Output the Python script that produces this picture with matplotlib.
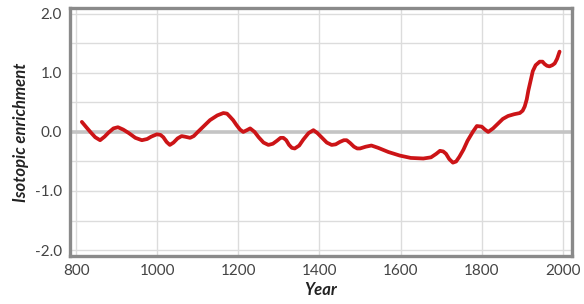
import numpy as np
import matplotlib.pyplot as plt

# values
years = [814, 825, 835, 847, 859, 870, 880, 892, 903, 916, 930, 946, 962, 975, 985, 999,
         1008, 1015, 1023, 1031, 1040, 1050, 1060, 1068, 1081, 1090, 1100, 1115, 1130,
         1148, 1163, 1172, 1179, 1187, 1195, 1204, 1212, 1221, 1229, 1240, 1250, 1262,
         1274, 1285, 1295, 1304, 1311, 1318, 1325, 1332, 1339, 1350, 1360, 1373, 1385,
         1395, 1405, 1418, 1430, 1440, 1450, 1460, 1467, 1476, 1485, 1493, 1500, 1514,
         1528, 1545, 1570, 1598, 1625, 1656, 1675, 1688, 1697, 1705, 1712, 1720, 1729,
         1737, 1745, 1755, 1765, 1778, 1788, 1800, 1808, 1816, 1828, 1840, 1852, 1865,
         1880, 1894, 1901, 1906, 1911, 1915, 1921, 1926, 1933, 1943, 1950, 1955, 1961,
         1967, 1974, 1980, 1986, 1992]
enrichment = [0.17, 0.08, 0.0, -0.09, -0.14, -0.08, -0.01, 0.06, 0.08, 0.04, -0.02, -0.1,
              -0.14, -0.12, -0.08, -0.04, -0.05, -0.09, -0.17, -0.22, -0.18, -0.11, -0.07,
              -0.08, -0.1, -0.07, 0.0, 0.1, 0.2, 0.28, 0.32, 0.31, 0.26, 0.2, 0.12, 0.04,
              0.0, 0.03, 0.06, 0.0, -0.09, -0.18, -0.22, -0.2, -0.15, -0.1, -0.1, -0.14,
              -0.22, -0.27, -0.28, -0.23, -0.13, -0.02, 0.03, -0.02, -0.09, -0.18, -0.22,
              -0.21, -0.17, -0.14, -0.14, -0.19, -0.25, -0.28, -0.28, -0.25, -0.23, -0.27,
              -0.34, -0.4, -0.44, -0.45, -0.43, -0.37, -0.32, -0.33, -0.37, -0.46, -0.52,
              -0.5, -0.42, -0.3, -0.15, 0.0, 0.1, 0.09, 0.04, 0.0, 0.06, 0.14, 0.22, 0.27,
              0.3, 0.32, 0.36, 0.43, 0.55, 0.7, 0.88, 1.03, 1.13, 1.19, 1.19, 1.15, 1.12,
              1.11, 1.13, 1.16, 1.24, 1.36]
xticks = [800, 1000, 1200, 1400, 1600, 1800, 2000]
yticks = [-2.0, -1.0, 0.0, 1.0, 2.0]

plt.rcParams['font.family'] = ['Lato', 'DejaVu Sans']

fig = plt.figure(figsize=(5.84, 3.04), dpi=100)
ax = fig.add_axes([0.12, 0.158, 0.859, 0.816])

ax.set_xlim(785, 2022)
ax.set_ylim(-2.1, 2.1)

# grid
for x in xticks:
    ax.axvline(x, color='#dcdcdc', lw=1, zorder=0)
for y in np.arange(-2.0, 2.01, 0.5):
    ax.axhline(y, color='#dcdcdc', lw=1, zorder=0)
ax.axhline(0, color='#c4c4c4', lw=2.6, zorder=1)

ax.plot(years, enrichment, color='#cc1417', lw=2.7, solid_joinstyle='round',
        solid_capstyle='round', zorder=3)

ax.set_xticks(xticks)
ax.set_yticks(yticks)
ax.set_yticklabels(['-2.0', '-1.0', '0.0', '1.0', '2.0'])
ax.tick_params(length=0, labelsize=11, labelcolor='#444444', pad=6)

for s in ax.spines.values():
    s.set_color('#8a8a8a')
    s.set_linewidth(2.4)

ax.set_xlabel('Year', fontsize=12, fontweight='bold', fontstyle='italic',
              color='#222222', labelpad=3)
ax.set_ylabel('Isotopic enrichment', fontsize=12, fontweight='bold',
              fontstyle='italic', color='#222222', labelpad=4)

fig.savefig('out.png', dpi=100)
